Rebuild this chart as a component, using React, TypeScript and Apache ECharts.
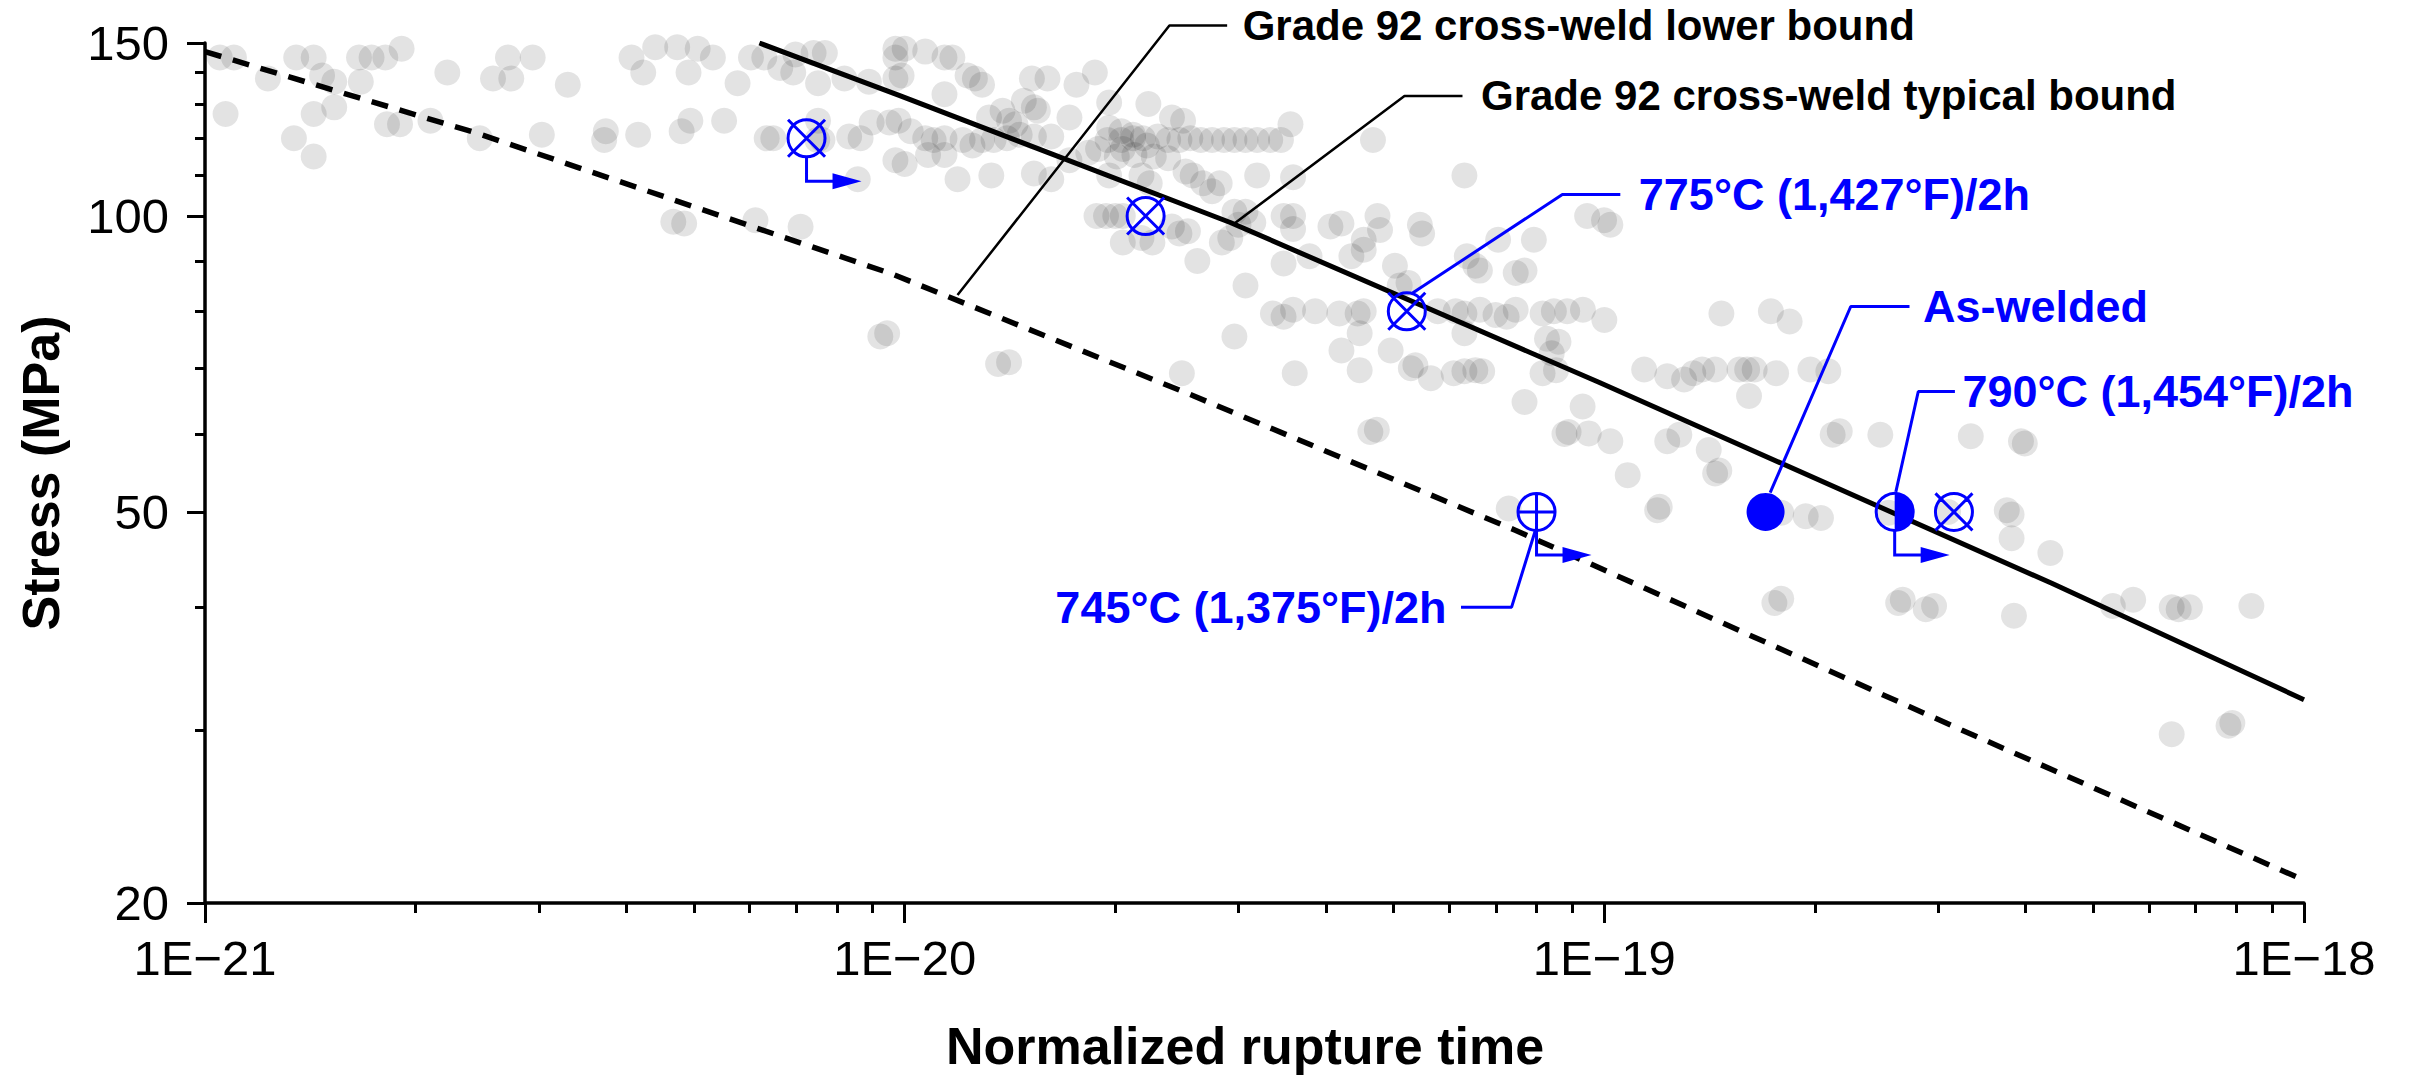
import React, { useEffect, useRef } from "react";
import * as echarts from "echarts";

const FONT = "'Liberation Sans', Arial, Helvetica, sans-serif";
const BLUE = "#0000ff";

// ---- axes ----
const xDecadeExponents = [-21, -20, -19, -18];
const xTickLabels = ["1E\u221221", "1E\u221220", "1E\u221219", "1E\u221218"];
const xMinorMultipliers = [2, 3, 4, 5, 6, 7, 8, 9];
const yRange = [20, 150];
const yTickLabels = [20, 50, 100, 150];
const yMinorTicks = [30, 40, 60, 70, 80, 90, 110, 120, 130, 140];

// ---- Grade 92 cross-weld database (normalized rupture time, stress MPa) ----
const crossWeldDecade21: [number, number][] = [
  [1.05e-21, 145], [1.1e-21, 145], [1.23e-21, 138], [1.07e-21, 127], [1.35e-21, 145], [1.43e-21, 145],
  [1.47e-21, 139], [1.53e-21, 137], [1.43e-21, 127], [1.53e-21, 129], [1.34e-21, 120], [1.43e-21, 115],
  [1.66e-21, 145], [1.73e-21, 145], [1.81e-21, 145], [1.91e-21, 148], [1.67e-21, 137], [1.82e-21, 124],
  [1.9e-21, 124], [2.1e-21, 125], [2.22e-21, 140], [2.47e-21, 120], [2.58e-21, 138], [2.74e-21, 138],
  [2.71e-21, 145], [2.94e-21, 145], [3.03e-21, 121], [3.3e-21, 136], [3.74e-21, 122], [3.72e-21, 119.5],
  [4.16e-21, 121], [4.07e-21, 145], [4.23e-21, 140], [4.4e-21, 148.5], [4.73e-21, 148.5], [4.8e-21, 122],
  [4.94e-21, 125], [4.91e-21, 140], [5.06e-21, 148], [5.32e-21, 145], [5.52e-21, 125], [5.77e-21, 136.5],
  [6.03e-21, 145], [6.3e-21, 145], [6.35e-21, 120], [6.49e-21, 120], [6.64e-21, 141.5], [6.93e-21, 140],
  [6.98e-21, 146], [7.41e-21, 146.5], [7.69e-21, 146.5], [7.52e-21, 125], [7.5e-21, 119.5], [7.63e-21, 119.5],
  [7.52e-21, 136.5], [8.2e-21, 138], [8.89e-21, 137], [8.33e-21, 120.5], [8.65e-21, 120], [8.57e-21, 109],
  [8.97e-21, 124.5], [9.51e-21, 124.5], [9.7e-21, 148], [9.7e-21, 145], [9.7e-21, 138], [9.7e-21, 114],
  [4.67e-21, 98.7], [4.84e-21, 98.3], [6.12e-21, 99], [7.1e-21, 97.5], [9.23e-21, 75.4], [9.44e-21, 76],
];

const crossWeldDecade20: [number, number][] = [
  [1.0e-20, 148], [1.07e-20, 147], [1.14e-20, 145], [1.17e-20, 145], [0.99e-20, 139], [1.23e-20, 139],
  [1.26e-20, 138], [1.29e-20, 136], [1.14e-20, 133], [1.52e-20, 138], [1.6e-20, 138], [1.76e-20, 136],
  [1.87e-20, 140], [1.48e-20, 131], [1.53e-20, 129], [1.55e-20, 128], [1.32e-20, 126], [1.38e-20, 128],
  [1.41e-20, 125], [1.44e-20, 124], [1.72e-20, 126], [0.98e-20, 125], [1.02e-20, 122], [1.07e-20, 120],
  [1.1e-20, 119.5], [1.14e-20, 120], [1.21e-20, 119.5], [1.25e-20, 118], [1.29e-20, 119.5], [1.34e-20, 119.5],
  [1.4e-20, 120], [1.46e-20, 121], [1.53e-20, 120.5], [1.62e-20, 120.5], [2.23e-20, 130], [2.41e-20, 126],
  [2.5e-20, 125], [1.96e-20, 123], [2.04e-20, 122], [2.12e-20, 121], [1.96e-20, 130.5],
  [1.95e-20, 119.5], [2.04e-20, 119.5], [2.12e-20, 120], [2.19e-20, 120], [2.3e-20, 120.5], [2.38e-20, 119.5],
  [2.47e-20, 119.5], [2.56e-20, 120], [2.65e-20, 119.5], [2.75e-20, 119.5], [2.86e-20, 119.5], [2.96e-20, 119.5],
  [3.07e-20, 119.5], [3.19e-20, 119.5], [3.33e-20, 119.5], [3.45e-20, 119.5], [3.56e-20, 124],
  [1.08e-20, 115.4], [1.14e-20, 115.4], [1.0e-20, 113], [1.19e-20, 109], [1.33e-20, 110], [1.53e-20, 110.5],
  [1.62e-20, 109], [1.72e-20, 114], [1.83e-20, 116], [1.89e-20, 117], [2.01e-20, 115], [2.05e-20, 117],
  [2.13e-20, 115.4], [2.22e-20, 118], [2.27e-20, 115], [2.38e-20, 114.5], [1.96e-20, 110], [2.18e-20, 110],
  [2.24e-20, 108], [2.52e-20, 111], [2.58e-20, 110], [2.67e-20, 108], [2.75e-20, 106], [2.82e-20, 108],
  [3.19e-20, 110], [3.59e-20, 109.5], [4.67e-20, 119.5], [6.31e-20, 110],
  [2.96e-20, 101], [3.07e-20, 101], [3.0e-20, 98], [3.15e-20, 98.5], [1.88e-20, 100], [1.94e-20, 100],
  [2.0e-20, 100], [2.05e-20, 100], [2.05e-20, 94], [2.18e-20, 95], [2.26e-20, 94], [2.41e-20, 97.6],
  [2.47e-20, 96], [2.54e-20, 96.5], [2.62e-20, 90], [2.84e-20, 94], [2.92e-20, 95], [3.07e-20, 85],
  [3.48e-20, 100], [3.59e-20, 100], [3.59e-20, 97], [3.48e-20, 89.5], [3.79e-20, 91], [4.06e-20, 97.6],
  [4.21e-20, 98.3], [4.53e-20, 94.6], [4.74e-20, 100], [4.78e-20, 96.8], [4.35e-20, 91], [4.53e-20, 92.4],
  [5.02e-20, 89], [5.1e-20, 85], [5.25e-20, 85.5], [5.45e-20, 98], [5.49e-20, 96], [6.36e-20, 91],
  [6.54e-20, 89], [6.64e-20, 88], [7.05e-20, 94.6], [7.47e-20, 87.5], [7.69e-20, 88], [7.93e-20, 94.6],
  [9.45e-20, 100],
  [3.36e-20, 79.6], [3.48e-20, 79], [3.59e-20, 80.3], [3.86e-20, 80], [4.18e-20, 79.6], [4.44e-20, 79.6],
  [4.53e-20, 80], [5.78e-20, 80], [6.13e-20, 80], [6.31e-20, 79.6], [6.64e-20, 80.3], [6.99e-20, 79.3],
  [7.25e-20, 79], [7.47e-20, 80.3], [8.16e-20, 79.6], [8.47e-20, 80], [8.85e-20, 80], [9.32e-20, 80.3],
  [2.96e-20, 75.4], [4.21e-20, 73], [4.47e-20, 76], [4.95e-20, 73], [6.31e-20, 76], [8.28e-20, 75],
  [8.6e-20, 74.5], [8.41e-20, 72.5],
  [1.36e-20, 70.7], [1.41e-20, 71], [2.49e-20, 69.2], [3.61e-20, 69.2], [4.47e-20, 69.7], [5.29e-20, 70],
  [5.37e-20, 70.5], [5.65e-20, 68.4], [6.09e-20, 69.2], [6.31e-20, 69.5], [6.54e-20, 69.7], [6.69e-20, 69.5],
  [8.16e-20, 69.2], [8.53e-20, 69.7],
  [7.69e-20, 64.7], [4.63e-20, 60.3], [4.73e-20, 60.6], [9.31e-20, 64], [8.77e-20, 60], [8.89e-20, 60.3],
  [9.5e-20, 60.1], [7.3e-20, 50.4],
];

const crossWeldDecade19: [number, number][] = [
  [9.99e-20, 99], [1.02e-19, 98], [1.0e-19, 78.4], [1.47e-19, 79.6], [1.73e-19, 80], [1.84e-19, 78.1],
  [1.14e-19, 69.8], [1.23e-19, 68.7], [1.3e-19, 68.2], [1.34e-19, 69.2], [1.38e-19, 69.8], [1.44e-19, 69.8],
  [1.56e-19, 69.8], [1.6e-19, 69.8], [1.64e-19, 69.8], [1.76e-19, 69.2], [1.97e-19, 69.8], [2.09e-19, 69.5],
  [1.61e-19, 65.6],
  [1.02e-19, 59], [1.23e-19, 59], [1.28e-19, 59.9], [1.41e-19, 57.8], [1.44e-19, 54.7], [1.46e-19, 55.1],
  [1.08e-19, 54.5], [1.19e-19, 50.2], [1.2e-19, 50.6], [1.79e-19, 49.9], [1.94e-19, 49.5], [2.04e-19, 49.3],
  [2.12e-19, 59.9], [2.17e-19, 60.4], [2.48e-19, 59.9], [3.34e-19, 59.7], [3.94e-19, 59], [3.99e-19, 58.7],
  [2.55e-19, 49.9], [3.1e-19, 50], [3.76e-19, 50.2], [3.82e-19, 49.7], [3.82e-19, 47], [4.34e-19, 45.4],
  [1.75e-19, 40.4], [1.79e-19, 40.8], [2.63e-19, 40.4], [2.67e-19, 40.7], [2.88e-19, 39.8], [2.96e-19, 40.1],
  [3.85e-19, 39.2], [5.33e-19, 40.1], [5.7e-19, 40.7], [6.47e-19, 40], [6.62e-19, 39.8], [6.87e-19, 40],
  [8.41e-19, 40.1], [6.47e-19, 29.7], [7.8e-19, 30.3], [7.9e-19, 30.5],
];

// ---- design curves ----
const typicalBound: [number, number][] = [
  [6.2e-21, 150], [9.84e-21, 132.6], [2.92e-20, 98.5], [9.84e-20, 67.7], [4.36e-19, 42.3], [1e-18, 32.2],
];
const lowerBound: [number, number][] = [
  [1e-21, 147], [2.45e-21, 121.4], [9.6e-21, 87.3], [2.55e-20, 65.9], [7.46e-20, 47.9], [3.24e-19, 30.0], [1e-18, 21.1],
];

// ---- tested conditions ----
const crossedPoints: [number, number][] = [[7.24e-21, 120], [2.21e-20, 100], [5.22e-20, 80], [3.16e-19, 50]];
const pwht745Points: [number, number][] = [[8.0e-20, 50]];
const asWeldedPoints: [number, number][] = [[1.7e-19, 50]];
const pwht790Points: [number, number][] = [[2.6e-19, 50]];
const runoutPoints: [number, number][] = [[7.24e-21, 120], [8.0e-20, 50], [2.6e-19, 50]];

// ---- annotations (leader paths in data units; last point carries the text) ----
const annotations = [
  { text: "Grade 92 cross-weld lower bound", tone: "black", side: "right", gap: 15,
    path: [[1.19e-20, 83.1], [2.39e-20, 156.3], [2.89e-20, 156.3]] },
  { text: "Grade 92 cross-weld typical bound", tone: "black", side: "right", gap: 18,
    path: [[2.94e-20, 97.9], [5.18e-20, 132.5], [6.27e-20, 132.5]] },
  { text: "775°C (1,427°F)/2h", tone: "blue", side: "right", gap: 18,
    path: [[5.32e-20, 83.5], [8.71e-20, 105.2], [1.054e-19, 105.2]] },
  { text: "As-welded", tone: "blue", side: "right", gap: 13,
    path: [[1.726e-19, 52.3], [2.25e-19, 80.9], [2.73e-19, 80.9]] },
  { text: "790°C (1,454°F)/2h", tone: "blue", side: "right", gap: 7,
    path: [[2.61e-19, 52.4], [2.81e-19, 66.3], [3.17e-19, 66.3]] },
  { text: "745°C (1,375°F)/2h", tone: "blue", side: "left", gap: 14,
    path: [[7.97e-20, 47.9], [7.37e-20, 40.0], [6.24e-20, 40.0]] },
];

const CROSS_PATH = "path://M0,18.5A18.5,18.5,0,1,1,37,18.5A18.5,18.5,0,1,1,0,18.5ZM0,0L37,37M37,0L0,37";
const PLUS_PATH = "path://M0,18.5A18.5,18.5,0,1,1,37,18.5A18.5,18.5,0,1,1,0,18.5ZM18.5,0L18.5,37M0,18.5L37,18.5";
const HALF_PATH = "path://M0,0A18.5,18.5,0,0,1,0,37Z";
const ARROW_PATH = "path://M0,0H3V23.5H29.5V26.5H0ZM27.5,17L56.5,25L27.5,33Z";

export default function App() {
  const ref = useRef<HTMLDivElement>(null);

  useEffect(() => {
    if (!ref.current) return;
    const chart = echarts.init(ref.current, null, { renderer: "svg" });
    const lg = (p: number[]) => [Math.log10(p[0]), Math.log10(p[1])];

    const xMinor: number[] = [];
    for (let i = 0; i < xDecadeExponents.length - 1; i++) {
      for (const m of xMinorMultipliers) xMinor.push(xDecadeExponents[i] + Math.log10(m));
    }
    const yMin = Math.log10(yRange[0]);
    const yMax = Math.log10(yRange[1]);
    const yMajor = yTickLabels.map((v) => Math.log10(v));
    const yMinor = yMinorTicks.map((v) => Math.log10(v));

    const axisCommon = {
      type: "value",
      splitLine: { show: false },
      axisPointer: { show: false },
    };

    const allDots = [...crossWeldDecade21, ...crossWeldDecade20, ...crossWeldDecade19];

    const leaderSeries = annotations.map((a) => ({
      type: "line",
      silent: true,
      clip: false,
      z: 4,
      symbol: "none",
      showSymbol: false,
      data: a.path.map(lg),
      lineStyle: { color: a.tone === "blue" ? BLUE : "#000", width: a.tone === "blue" ? 3 : 2.5, opacity: 1 },
    }));

    const option: any = {
      animation: false,
      backgroundColor: "#ffffff",
      textStyle: { fontFamily: FONT },
      grid: { left: 205, right: 109, top: 43, bottom: 175, containLabel: false, outerBoundsMode: "none" },
      xAxis: [
        {
          ...axisCommon,
          min: -21,
          max: -18,
          position: "bottom",
          axisLine: { show: true, onZero: false, lineStyle: { color: "#000", width: 3.5 } },
          axisTick: { show: true, inside: false, length: 20, customValues: xDecadeExponents, lineStyle: { color: "#000", width: 3 } },
          axisLabel: {
            show: true,
            customValues: xDecadeExponents,
            margin: 30,
            color: "#000",
            fontSize: 49,
            fontFamily: FONT,
            formatter: (v: number) => xTickLabels[xDecadeExponents.indexOf(Math.round(v))] ?? "",
          },
          name: "Normalized rupture time",
          nameLocation: "middle",
          nameGap: 117,
          nameTextStyle: { fontSize: 52, fontWeight: "bold", color: "#000", fontFamily: FONT, padding: [0, 19, 0, 0] },
        },
        {
          ...axisCommon,
          min: -21,
          max: -18,
          position: "bottom",
          axisLine: { show: false, onZero: false },
          axisTick: { show: true, inside: false, length: 10, customValues: xMinor, lineStyle: { color: "#000", width: 3 } },
          axisLabel: { show: false },
        },
      ],
      yAxis: [
        {
          ...axisCommon,
          min: yMin,
          max: yMax,
          position: "left",
          axisLine: { show: true, onZero: false, lineStyle: { color: "#000", width: 3.5 } },
          axisTick: { show: true, inside: false, length: 18, customValues: yMajor, lineStyle: { color: "#000", width: 3 } },
          axisLabel: {
            show: true,
            customValues: yMajor,
            margin: 36,
            color: "#000",
            fontSize: 49,
            fontFamily: FONT,
            formatter: (v: number) => String(Math.round(Math.pow(10, v))),
          },
          name: "Stress (MPa)",
          nameLocation: "middle",
          nameGap: 138,
          nameTextStyle: { fontSize: 52, fontWeight: "bold", color: "#000", fontFamily: FONT },
        },
        {
          ...axisCommon,
          min: yMin,
          max: yMax,
          position: "left",
          axisLine: { show: false, onZero: false },
          axisTick: { show: true, inside: false, length: 10, customValues: yMinor, lineStyle: { color: "#000", width: 3 } },
          axisLabel: { show: false },
        },
      ],
      series: [
        {
          name: "Grade 92 cross-weld data",
          type: "scatter",
          silent: true,
          z: 1,
          symbol: "circle",
          symbolSize: 26,
          data: allDots.map(lg),
          itemStyle: { color: "rgba(0,0,0,0.11)", opacity: 1 },
        },
        {
          name: "Grade 92 cross-weld typical bound",
          type: "line",
          silent: true,
          z: 3,
          symbol: "none",
          showSymbol: false,
          data: typicalBound.map(lg),
          lineStyle: { color: "#000", width: 5, opacity: 1 },
        },
        {
          name: "Grade 92 cross-weld lower bound",
          type: "line",
          silent: true,
          z: 3,
          symbol: "none",
          showSymbol: false,
          data: lowerBound.map(lg),
          lineStyle: { color: "#000", width: 5.5, type: [17, 12], opacity: 1 },
        },
        ...leaderSeries,
        {
          name: "runout",
          type: "scatter",
          silent: true,
          clip: false,
          z: 5,
          symbol: ARROW_PATH,
          symbolSize: [56.5, 33],
          symbolOffset: [26.75, 34.5],
          data: runoutPoints.map(lg),
          itemStyle: { color: BLUE, opacity: 1 },
        },
        {
          name: "PWHT crossed",
          type: "scatter",
          silent: true,
          z: 6,
          symbol: CROSS_PATH,
          symbolSize: 37,
          data: crossedPoints.map(lg),
          itemStyle: { color: "rgba(0,0,0,0)", borderColor: BLUE, borderWidth: 3, opacity: 1 },
        },
        {
          name: "745°C (1,375°F)/2h",
          type: "scatter",
          silent: true,
          z: 6,
          symbol: PLUS_PATH,
          symbolSize: 37,
          data: pwht745Points.map(lg),
          itemStyle: { color: "rgba(0,0,0,0)", borderColor: BLUE, borderWidth: 3, opacity: 1 },
        },
        {
          name: "As-welded",
          type: "scatter",
          silent: true,
          z: 6,
          symbol: "circle",
          symbolSize: 38,
          data: asWeldedPoints.map(lg),
          itemStyle: { color: BLUE, opacity: 1 },
        },
        {
          name: "790°C (1,454°F)/2h outline",
          type: "scatter",
          silent: true,
          z: 6,
          symbol: "circle",
          symbolSize: 37,
          data: pwht790Points.map(lg),
          itemStyle: { color: "rgba(0,0,0,0)", borderColor: BLUE, borderWidth: 3, opacity: 1 },
        },
        {
          name: "790°C (1,454°F)/2h fill",
          type: "scatter",
          silent: true,
          z: 7,
          symbol: HALF_PATH,
          symbolSize: [18.5, 37],
          symbolOffset: [9.25, 0],
          data: pwht790Points.map(lg),
          itemStyle: { color: BLUE, opacity: 1 },
        },
        {
          name: "annotation text",
          type: "scatter",
          silent: true,
          clip: false,
          z: 8,
          symbol: "circle",
          symbolSize: 1,
          itemStyle: { color: "rgba(0,0,0,0)", opacity: 1 },
          data: annotations.map((a) => ({
            name: a.text,
            value: lg(a.path[a.path.length - 1]),
            label: {
              show: true,
              position: a.side,
              distance: a.gap,
              formatter: "{b}",
              color: a.tone === "blue" ? BLUE : "#000",
              opacity: 1,
              fontSize: a.tone === "blue" ? 45 : 42,
              lineHeight: a.tone === "blue" ? 45 : 40,
              fontWeight: "bold",
              fontFamily: FONT,
            },
          })),
        },
      ],
    };

    chart.setOption(option);
    return () => chart.dispose();
  }, []);

  return (
    <div
      ref={ref}
      style={{ position: "fixed", left: 0, top: 0, width: 2413, height: 1078, background: "#fff" }}
    />
  );
}
